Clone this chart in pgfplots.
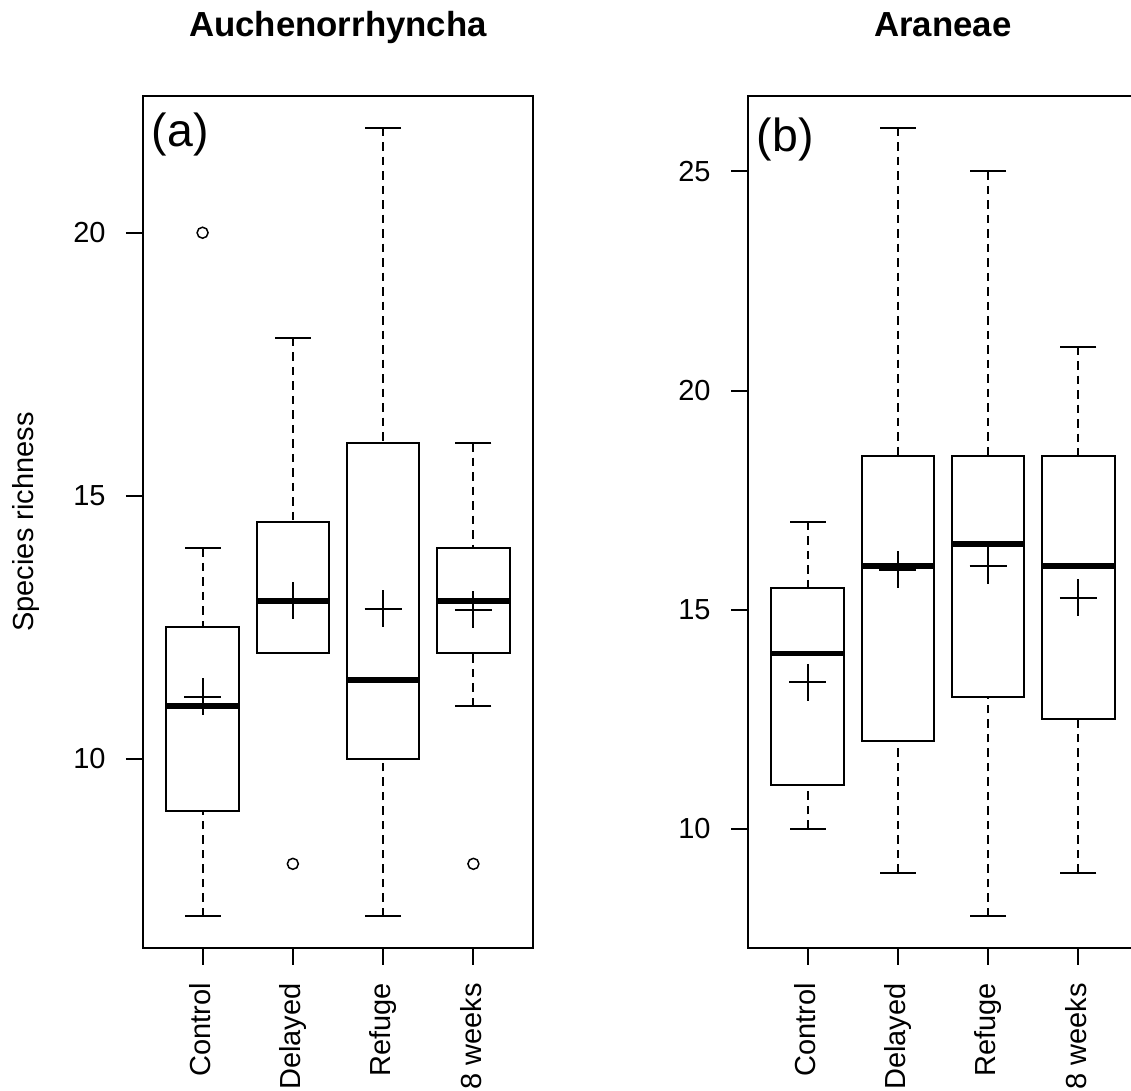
\documentclass[border=0pt]{standalone}
\usepackage{fontspec}
\setmainfont{Liberation Sans}
\usepackage{pgfplots}
\pgfplotsset{compat=1.18}

% One base-R style boxplot panel; 1 px of the original device = 0.5pt
\pgfplotsset{
  rpanel/.style={
    scale only axis, width=195pt, height=426pt,
    anchor=south west, clip=false,
    xmin=0.34, xmax=4.66,
    axis line style={line width=1pt},
    every tick/.style={black, line width=1pt},
    major tick length=8.5pt,
    tick align=outside, tick pos=left,
    xtick={1,2,3,4},
    xticklabels={Control,Delayed,Refuge,8 weeks},
    ticklabel style={font=\fontsize{14.5}{17}\selectfont},
    xticklabel style={rotate=90, anchor=east, inner sep=0pt, text height=1.45ex, text depth=0pt},
    yticklabel style={anchor=east, inner sep=0pt},
    xticklabel shift=9pt, yticklabel shift=10pt,
    /pgf/number format/assume math mode=true,
    title style={at={(0.5,1)}, anchor=base, yshift=23.5pt,
      font=\fontsize{17.4}{20}\selectfont\bfseries},
  },
  rwhisker/.style={black, line width=1pt, dash pattern=on 4.25pt off 3pt},
  rcap/.style={black, only marks, mark=-, mark size=9pt, mark options={solid, line width=1pt}},
  rframe/.style={black, line width=1pt, line join=miter},
  rmedian/.style={black, line width=2.8pt},
  rmean/.style={black, only marks, mark=+, mark size=9.25pt, mark options={solid, line width=1pt}},
  rout/.style={black, only marks, mark=o, mark size=2.75pt, mark options={solid, line width=0.75pt}},
}

% \rbox{left}{centre}{right}{lower whisker}{lower quartile}{median}{upper quartile}{upper whisker}
\newcommand{\rbox}[8]{%
  \addplot[rwhisker] coordinates {(#2,#4) (#2,#5)};
  \addplot[rwhisker] coordinates {(#2,#8) (#2,#7)};
  \addplot[rcap] coordinates {(#2,#4) (#2,#8)};
  \addplot[rframe] coordinates {(#1,#5) (#3,#5) (#3,#7) (#1,#7) (#1,#5) (#3,#5)};
  \addplot[rmedian] coordinates {(#1,#6) (#3,#6)};
}

\begin{document}
\begin{tikzpicture}
% ---------------- (a) Auchenorrhyncha ----------------
\begin{axis}[rpanel, at={(71.5pt,71.5pt)},
  ymin=6.4, ymax=22.6, ytick={10,15,20},
  title={Auchenorrhyncha}]
  \rbox{0.6}{1}{1.4}{7}{9}{11}{12.5}{14}
  \rbox{1.6}{2}{2.4}{12}{12}{13}{14.5}{18}
  \rbox{2.6}{3}{3.4}{7}{10}{11.5}{16}{22}
  \rbox{3.6}{4}{4.4}{11}{12}{13}{14}{16}
  % outliers
  \addplot[rout] coordinates {(1,20) (2,8) (4,8)};
  % group means
  \addplot[rmean] coordinates {(1,11.18) (2,13.0) (3,12.85) (4,12.83)};
  \path (rel axis cs:0,1) ++(4.25pt,-25.5pt)
    node[anchor=base west, inner sep=0pt, font=\fontsize{23.2}{26}\selectfont] {(a)};
  \path (rel axis cs:0,0.5) ++(-54.5pt,0pt)
    node[rotate=90, anchor=base, inner sep=0pt, font=\fontsize{14.5}{17}\selectfont] {Species richness};
\end{axis}
% ---------------- (b) Araneae ----------------
\begin{axis}[rpanel, at={(374pt,71.5pt)},
  ymin=7.28, ymax=26.72, ytick={10,15,20,25},
  title={Araneae}]
  \rbox{0.6}{1}{1.4}{10}{11}{14}{15.5}{17}
  \rbox{1.6}{2}{2.4}{9}{12}{16}{18.5}{26}
  \rbox{2.6}{3}{3.4}{8}{13}{16.5}{18.5}{25}
  \rbox{3.6}{4}{4.4}{9}{12.5}{16}{18.5}{21}
  % group means
  \addplot[rmean] coordinates {(1,13.34) (2,15.91) (3,16.0) (4,15.27)};
  \path (rel axis cs:0,1) ++(4.25pt,-28pt)
    node[anchor=base west, inner sep=0pt, font=\fontsize{23.2}{26}\selectfont] {(b)};
\end{axis}
\pgfresetboundingbox
\useasboundingbox (0,0) rectangle (565.5pt,545.5pt);
\end{tikzpicture}
\end{document}
